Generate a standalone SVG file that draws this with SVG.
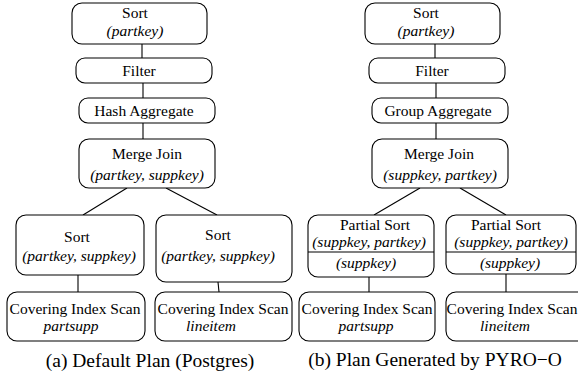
<svg xmlns="http://www.w3.org/2000/svg" width="578" height="379" viewBox="0 0 578 379" font-family="'Liberation Serif', 'Times New Roman', serif">
  <style>
    .box { fill: #ffffff; stroke: #000000; stroke-width: 1.1; }
    .edge { stroke: #000000; stroke-width: 1.1; fill: none; }
    text { font-family: "Liberation Serif", "Times New Roman", serif; font-size: 15.5px; fill: #000000; text-anchor: middle; }
    .it { font-style: italic; }
    .cap { font-size: 19.5px; }
  </style>
  <rect width="578" height="379" fill="#ffffff"/>

  <!-- connectors -->
  <g id="edges">
    <line class="edge" x1="142" y1="44" x2="142" y2="58"/>
    <line class="edge" x1="143" y1="83" x2="143" y2="98"/>
    <line class="edge" x1="143" y1="123" x2="143" y2="139"/>
    <line class="edge" x1="127" y1="188" x2="83" y2="215"/>
    <line class="edge" x1="166" y1="188" x2="217" y2="215"/>
    <line class="edge" x1="78" y1="275" x2="78" y2="292"/>
    <line class="edge" x1="218" y1="282" x2="219" y2="292"/>

    <line class="edge" x1="435" y1="44" x2="435" y2="58"/>
    <line class="edge" x1="436" y1="83" x2="436" y2="98"/>
    <line class="edge" x1="436" y1="123" x2="436" y2="139"/>
    <line class="edge" x1="420" y1="188" x2="374" y2="215"/>
    <line class="edge" x1="460" y1="188" x2="506" y2="215"/>
    <line class="edge" x1="369" y1="277" x2="369" y2="292"/>
    <line class="edge" x1="506" y1="274" x2="506" y2="292"/>
  </g>

  <!-- plan (a) -->
  <g id="a-sort">
    <rect class="box" x="72" y="3" width="135" height="41" rx="10"/>
    <text x="135" y="18">Sort</text>
    <text class="it" x="135" y="36">(partkey)</text>
  </g>
  <g id="a-filter">
    <rect class="box" x="76" y="58" width="136" height="25" rx="9"/>
    <text x="139" y="76">Filter</text>
  </g>
  <g id="a-hashagg">
    <rect class="box" x="79" y="98" width="136" height="25" rx="9"/>
    <text x="144" y="116">Hash Aggregate</text>
  </g>
  <g id="a-mergejoin">
    <rect class="box" x="79" y="139" width="136" height="49" rx="10"/>
    <text x="147" y="159">Merge Join</text>
    <text class="it" x="147" y="180">(partkey, suppkey)</text>
  </g>
  <g id="a-sort-left">
    <rect class="box" x="16" y="215" width="128" height="60" rx="10"/>
    <text x="77" y="242">Sort</text>
    <text class="it" x="79" y="261">(partkey, suppkey)</text>
  </g>
  <g id="a-sort-right">
    <rect class="box" x="156" y="215" width="136" height="67" rx="10"/>
    <text x="218" y="240">Sort</text>
    <text class="it" x="218" y="261">(partkey, suppkey)</text>
  </g>
  <g id="a-scan-partsupp">
    <rect class="box" x="7" y="292" width="138" height="49" rx="10"/>
    <text x="75" y="314">Covering Index Scan</text>
    <text class="it" x="71" y="331">partsupp</text>
  </g>
  <g id="a-scan-lineitem">
    <rect class="box" x="155" y="292" width="137" height="49" rx="10"/>
    <text x="223" y="314">Covering Index Scan</text>
    <text class="it" x="211" y="331">lineitem</text>
  </g>

  <!-- plan (b) -->
  <g id="b-sort">
    <rect class="box" x="365" y="3" width="135" height="41" rx="10"/>
    <text x="426" y="18">Sort</text>
    <text class="it" x="426" y="36">(partkey)</text>
  </g>
  <g id="b-filter">
    <rect class="box" x="369" y="58" width="136" height="25" rx="9"/>
    <text x="432" y="76">Filter</text>
  </g>
  <g id="b-groupagg">
    <rect class="box" x="372" y="98" width="136" height="25" rx="9"/>
    <text x="438" y="116">Group Aggregate</text>
  </g>
  <g id="b-mergejoin">
    <rect class="box" x="372" y="139" width="136" height="49" rx="10"/>
    <text x="439" y="159">Merge Join</text>
    <text class="it" x="440" y="180">(suppkey, partkey)</text>
  </g>
  <g id="b-psort-left">
    <rect class="box" x="308" y="215" width="126" height="62" rx="10"/>
    <line class="edge" x1="308" y1="252" x2="434" y2="252"/>
    <text x="375" y="230">Partial Sort</text>
    <text class="it" x="369" y="247">(suppkey, partkey)</text>
    <text class="it" x="366" y="268">(suppkey)</text>
  </g>
  <g id="b-psort-right">
    <rect class="box" x="446" y="215" width="130" height="59" rx="10"/>
    <line class="edge" x1="446" y1="252" x2="576" y2="252"/>
    <text x="506" y="230">Partial Sort</text>
    <text class="it" x="511" y="247">(suppkey, partkey)</text>
    <text class="it" x="510" y="268">(suppkey)</text>
  </g>
  <g id="b-scan-partsupp">
    <rect class="box" x="299" y="292" width="136" height="49" rx="10"/>
    <text x="367" y="314">Covering Index Scan</text>
    <text class="it" x="366" y="331">partsupp</text>
  </g>
  <g id="b-scan-lineitem">
    <rect class="box" x="446" y="292" width="142" height="49" rx="10"/>
    <text x="512" y="314">Covering Index Scan</text>
    <text class="it" x="505" y="331">lineitem</text>
  </g>

  <!-- captions -->
  <text class="cap" x="150" y="367">(a) Default Plan (Postgres)</text>
  <text class="cap" x="435" y="366">(b) Plan Generated by PYRO−O</text>
</svg>
